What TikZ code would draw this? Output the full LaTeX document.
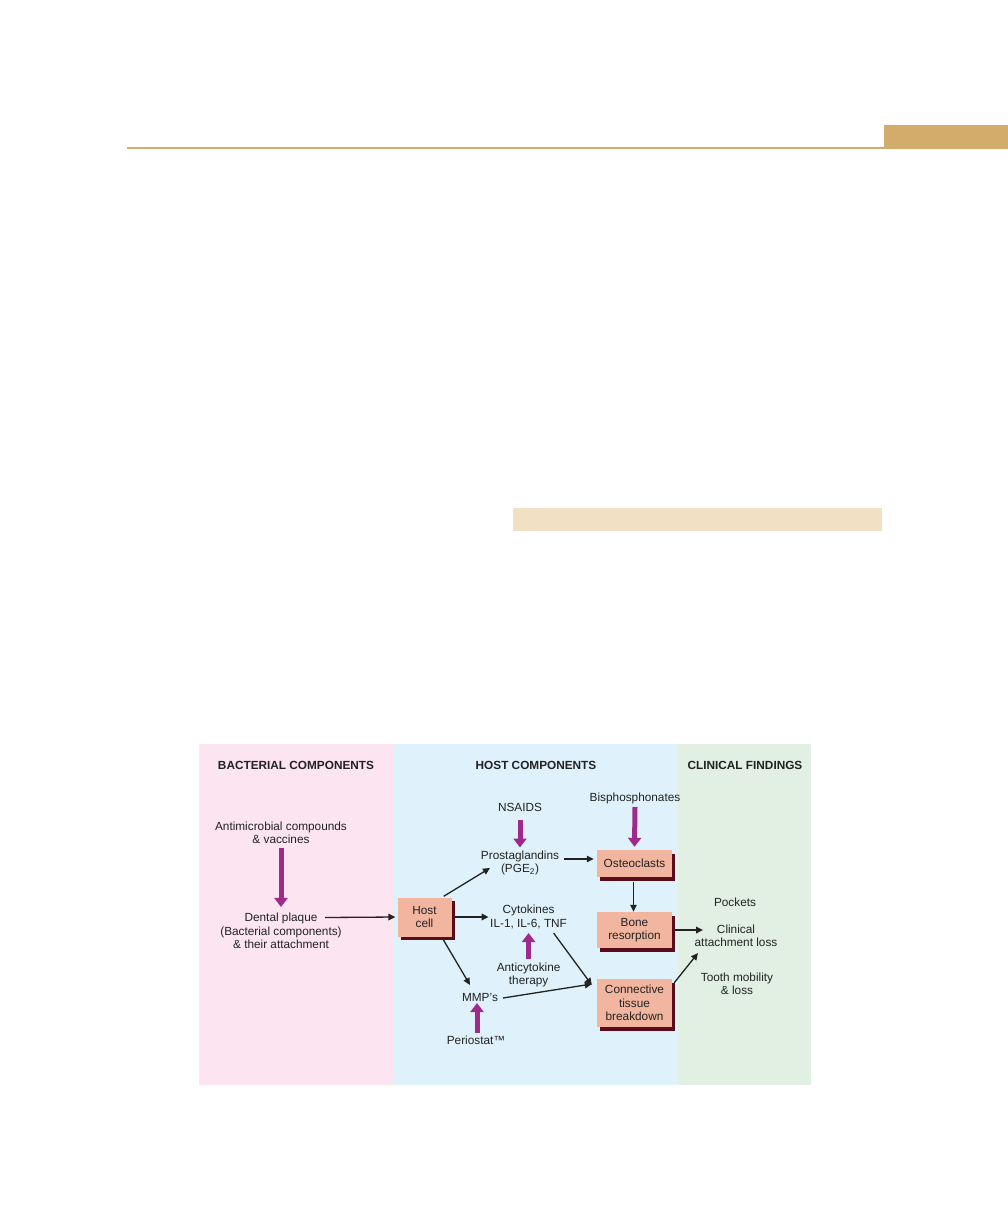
\documentclass[tikz,border=0pt]{standalone}
\usepackage{fontspec}
\setmainfont{Liberation Sans}
\usetikzlibrary{arrows.meta,calc,shadows}
\definecolor{rulec}{HTML}{D3AB6B}
\definecolor{barc}{HTML}{F1E0C3}
\definecolor{pinkp}{HTML}{FCE4F0}
\definecolor{bluep}{HTML}{DFF1FA}
\definecolor{greenp}{HTML}{E1F0E3}
\definecolor{boxc}{HTML}{F2B6A0}
\definecolor{shadc}{HTML}{5A0C18}
\definecolor{purp}{HTML}{9E2A8C}
\definecolor{txt}{HTML}{222222}
\begin{document}
\begin{tikzpicture}[x=1pt,y=-1pt,
  font=\fontsize{11.8}{13.5}\selectfont,
  lbl/.style={inner sep=1pt, align=center, text=txt},
  hdr/.style={font=\fontsize{11.8}{13.5}\selectfont\bfseries, text=txt, inner sep=1pt},
  bx/.style={fill=boxc, inner sep=0pt, align=center, text=txt, minimum width=75pt,
    drop shadow={shadow xshift=3pt, shadow yshift=-3.5pt, fill=shadc, opacity=1}},
  parrow/.style={draw=purp, line width=5pt, -{Triangle[width=13pt,length=9pt]}},
  barrow/.style={draw=txt, line width=1.3pt, -{Triangle[width=6.5pt,length=7pt]}},
  tbarrow/.style={barrow, line width=1.9pt}]
\useasboundingbox (0,0) rectangle (1008,1224);
\fill[white] (0,0) rectangle (1008,1224);
% page decorations
\draw[rulec, line width=2.8pt] (127,148) -- (884,148);
\fill[rulec] (884,125) rectangle (1008,149.4);
\fill[barc] (513,508) rectangle (882,531);
% panels
\fill[pinkp] (199,744) rectangle (393,1085);
\fill[bluep] (393,744) rectangle (677.5,1085);
\fill[greenp] (677.5,744) rectangle (811,1085);
% headers
\node[hdr] (h1) at (296,765) {BACTERIAL COMPONENTS};
\node[hdr] (h2) at (536,765) {HOST COMPONENTS};
\node[hdr] (h3) at (745,765) {CLINICAL FINDINGS};
% texts
\node[lbl] (antimicro) at (281,833) {Antimicrobial compounds\\\& vaccines};
\node[lbl] (plaque) at (281,931) {Dental plaque\\(Bacterial components)\\\& their attachment};
\node[lbl] (nsaids) at (520,807) {NSAIDS};
\node[lbl] (prost) at (520,863) {Prostaglandins\\(PGE\textsubscript{2})};
\node[lbl] (bisph) at (635,798) {Bisphosphonates};
\node[lbl] (cyto) at (528.6,917) {Cytokines\\IL-1, IL-6, TNF};
\node[lbl] (anti) at (528.6,975) {Anticytokine\\therapy};
\node[lbl] (mmp) at (480,997) {MMP's};
\node[lbl] (peri) at (476,1040) {Periostat™};
\node[lbl] (pockets) at (735,902) {Pockets};
\node[lbl] (clin) at (736,936) {Clinical\\attachment loss};
\node[lbl] (tooth) at (737,984) {Tooth mobility\\\& loss};
% boxes
\node[bx, minimum height=39pt, minimum width=54pt] (host) at (424.5,917) {Host\\cell};
\node[bx, minimum height=27pt] (osteo) at (634.5,863.5) {Osteoclasts};
\node[bx, minimum height=36pt] (bone) at (634.5,930) {Bone\\resorption};
\node[bx, minimum height=48pt] (conn) at (634.5,1003) {Connective\\tissue\\breakdown};
% purple arrows
\draw[parrow] ($(antimicro.south)+(0,3)$) -- ($(plaque.north)+(0,-5)$);
\draw[parrow] ($(nsaids.center)+(0,13)$) -- ($(prost.center)+(0,-15.5)$);
\draw[parrow] ($(bisph.center)+(0,9)$) -- ($(osteo.north)+(0,-3)$);
\draw[parrow] ($(anti.center)+(0,-16.5)$) -- ($(cyto.center)+(0,16)$);
\draw[parrow] ($(peri.center)+(1,-7)$) -- ($(mmp.center)+(-3,6)$);
% black arrows
\coordinate (dpout) at (325,917.5);
\draw[barrow] (dpout) -- ($(host.west)+(-2,0)$);
\draw[barrow] ($(host.north east)+(-8,-1)$) -- ($(prost.center)+(-30,5)$);
\draw[barrow] ($(prost.center)+(44,-4)$) -- ($(osteo.west)+(-3,-4.5)$);
\draw[barrow] ($(osteo.south)+(-1,5)$) -- ($(bone.north)+(-1,0)$);
\draw[tbarrow] ($(host.east)+(3,0)$) -- ($(cyto.center)+(-40,0)$);
\draw[barrow] ($(cyto.center)+(25,16)$) -- ($(conn.west)+(-5,-18)$);
\draw[barrow] ($(host.south east)+(-9,2)$) -- ($(mmp.center)+(-10,-12)$);
\draw[barrow] ($(mmp.center)+(23,1)$) -- ($(conn.west)+(-5,-19)$);
\draw[tbarrow] ($(bone.east)+(3,0)$) -- ($(clin.center)+(-33,-6)$);
\draw[barrow] ($(conn.north east)+(2,4)$) -- ($(clin.center)+(-38,17)$);
\end{tikzpicture}
\end{document}
